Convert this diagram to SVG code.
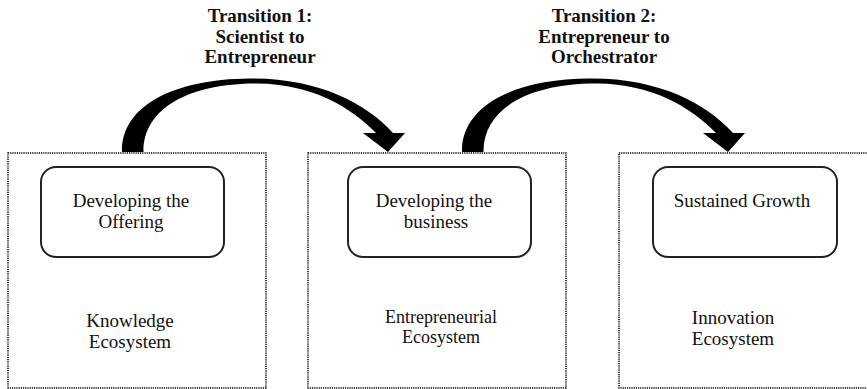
<svg xmlns="http://www.w3.org/2000/svg" xmlns:xlink="http://www.w3.org/1999/xlink" width="867" height="389" viewBox="0 0 867 389">
<style>
.eco{fill:none;stroke:#000;stroke-width:1.5;stroke-dasharray:1.2 1}
.stage{fill:#fff;stroke:#222;stroke-width:2}
.t{font-family:"Liberation Serif","Times New Roman",serif;font-size:19px;fill:#111;text-anchor:middle}
.s{font-size:18px}
.b{font-weight:bold}
.arrow{fill:#000}
</style>
<defs>
<path id="curvedArrow" class="arrow" d="M122,152 C121,108 170,79 250,78.5 C318,78 366,103 393,133 L405,133 L388,152 L363,133 L376,133 C350,106 310,84 258,83.5 C190,83 143,108 143.5,152 Z"/>
</defs>
<rect width="867" height="389" fill="#fff"/>
<g id="eco1">
<rect class="eco" x="8" y="153" width="258" height="235"/>
<rect class="stage" x="41" y="167" width="183" height="90" rx="15"/>
<text class="t" x="131" y="207">Developing the</text>
<text class="t" x="131" y="228">Offering</text>
<text class="t" x="130" y="327">Knowledge</text>
<text class="t" x="130" y="348">Ecosystem</text>
</g>
<g id="eco2">
<rect class="eco" x="308" y="153" width="258" height="235"/>
<rect class="stage" x="348" y="167" width="183" height="90" rx="15"/>
<text class="t" x="434" y="207">Developing the</text>
<text class="t" x="436" y="228">business</text>
<text class="t s" x="441" y="323">Entrepreneurial</text>
<text class="t s" x="441" y="343">Ecosystem</text>
</g>
<g id="eco3">
<rect class="eco" x="619" y="153" width="260" height="235"/>
<rect class="stage" x="653" y="167" width="184" height="90" rx="15"/>
<text class="t" x="742" y="207">Sustained Growth</text>
<text class="t" x="733" y="324">Innovation</text>
<text class="t" x="733" y="345">Ecosystem</text>
</g>
<g id="connectors">
<use xlink:href="#curvedArrow"/>
<use xlink:href="#curvedArrow" transform="translate(340,0)"/>
</g>
<g id="label1">
<text class="t b" x="260" y="22">Transition 1:</text>
<text class="t b" x="260" y="43">Scientist to</text>
<text class="t b" x="260" y="63">Entrepreneur</text>
</g>
<g id="label2">
<text class="t b" x="604" y="22">Transition 2:</text>
<text class="t b" x="604" y="43">Entrepreneur to</text>
<text class="t b" x="604" y="63">Orchestrator</text>
</g>
</svg>
